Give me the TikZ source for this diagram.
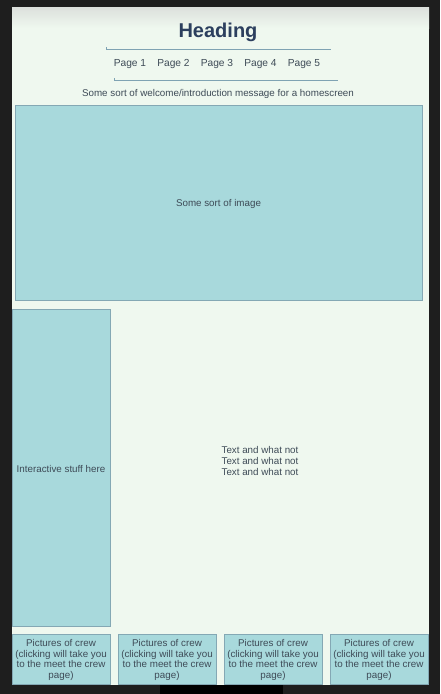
\documentclass[tikz,border=0pt]{standalone}
\usepackage{fontspec}
\setmainfont{Liberation Sans}
\definecolor{bgdark}{HTML}{1E1E1E}
\definecolor{panel}{HTML}{EFF8EF}
\definecolor{panelshade}{HTML}{DCE0DC}
\definecolor{boxfill}{HTML}{A8D9DC}
\definecolor{boxline}{HTML}{84A8B4}
\definecolor{txt}{HTML}{3E4B57}
\definecolor{head}{HTML}{2C3F5E}
\definecolor{rule}{HTML}{7FA3B3}
\tikzset{
  box/.style={draw=boxline, line width=0.9pt, fill=boxfill, inner sep=0pt},
  lbl/.style={text=txt, font=\fontsize{9.8}{11}\selectfont, align=center, inner sep=0pt},
  navrule/.style={draw=rule, line width=0.8pt},
  pg/.style={text=txt, font=\fontsize{10.2}{12}\selectfont, inner sep=0pt, anchor=base}
}
\begin{document}
\begin{tikzpicture}[x=1pt,y=-1pt]
\useasboundingbox (0,0) rectangle (440,694);
\fill[bgdark] (0,0) rectangle (440,694);
\fill[panel] (12,7) rectangle (429,685);
\shade[top color=panelshade, bottom color=panel] (12,7) rectangle (429,28);
\fill[black] (160,685) rectangle (283,694);
% heading
\node[text=head, font=\bfseries\fontsize{20}{24}\selectfont, inner sep=0pt] (heading) at (218,32) {Heading};
% nav rules
\coordinate (r1a) at (106,49); \coordinate (r1b) at (331,49);
\draw[navrule] (r1a) -- (r1b);
\draw[navrule] (r1a) -- ++(0,-2);
\coordinate (r2a) at (114,80); \coordinate (r2b) at (338,80);
\draw[navrule] (r2a) -- (r2b);
\draw[navrule] (r2a) -- ++(0,-2);
% pages
\node[pg] (p1) at (130,66) {Page 1};
\node[pg] (p2) at (173.5,66) {Page 2};
\node[pg] (p3) at (217,66) {Page 3};
\node[pg] (p4) at (260.5,66) {Page 4};
\node[pg] (p5) at (304,66) {Page 5};
\node[lbl] (welcome) at (218,94) {Some sort of welcome/introduction message for a homescreen};
% image
\draw[box] (15,105) rectangle (422,300);
\node[lbl] (img) at (218.5,204) {Some sort of image};
% interactive
\draw[box] (12,309) rectangle (110,626);
\node[lbl] (inter) at (61,468.5) {Interactive stuff here};
\node[lbl] (tw) at (260,461) {Text and what not\\Text and what not\\Text and what not};
% crew
\foreach \x/\n in {12/c1,118/c2,224/c3,330/c4}{
  \draw[box] (\x,634) rectangle ({\x+98},684);
  \node[lbl, font=\fontsize{9.8}{10.9}\selectfont] (\n) at ({\x+49},660) {Pictures of crew\\(clicking will take you\\to the meet the crew\\page)};
}
\end{tikzpicture}
\end{document}
